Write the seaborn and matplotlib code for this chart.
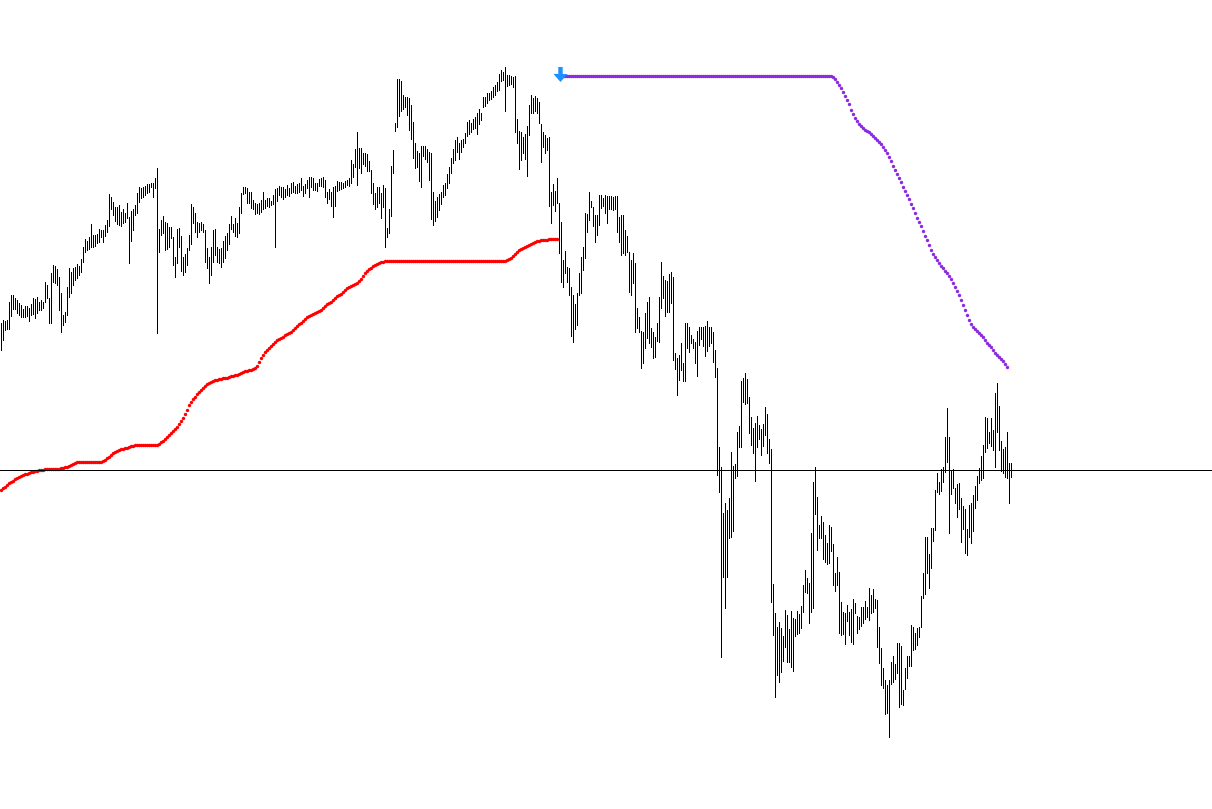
import numpy as np
import seaborn as sns
from matplotlib import pyplot as plt

# bar highs / lows (price points), one entry per bar
bar_high = [
    477, 480, 479, 480, 498, 505, 505, 502, 500, 497,
    495, 491, 494, 494, 492, 496, 502, 501, 503, 498,
    500, 498, 518, 515, 502, 527, 535, 534, 531, 523,
    507, 485, 488, 513, 532, 528, 532, 533, 536, 534,
    541, 553, 561, 559, 563, 576, 565, 565, 566, 571,
    570, 570, 575, 580, 606, 603, 598, 593, 593, 595,
    588, 591, 587, 597, 583, 589, 591, 595, 607, 613,
    612, 613, 614, 616, 616, 617, 617, 622, 632, 571,
    580, 584, 578, 577, 573, 573, 563, 543, 571, 572,
    564, 543, 546, 552, 565, 596, 593, 587, 578, 577,
    578, 576, 570, 552, 543, 553, 570, 571, 553, 551,
    552, 559, 564, 567, 576, 584, 576, 582, 577, 593,
    607, 613, 613, 612, 608, 608, 600, 597, 596, 597,
    600, 608, 600, 602, 602, 599, 605, 611, 612, 614,
    613, 613, 611, 615, 612, 617, 618, 614, 616, 617,
    622, 614, 616, 620, 623, 623, 622, 617, 617, 621,
    622, 623, 620, 608, 611, 608, 613, 614, 619, 618,
    618, 617, 619, 620, 622, 640, 636, 651, 668, 652,
    652, 647, 647, 646, 639, 630, 617, 607, 613, 613,
    607, 615, 612, 572, 591, 634, 650, 677, 721, 721,
    719, 705, 703, 703, 702, 695, 678, 657, 649, 647,
    654, 654, 654, 651, 648, 647, 608, 599, 603, 606,
    608, 615, 617, 626, 633, 642, 651, 660, 663, 657,
    660, 661, 667, 678, 680, 677, 681, 683, 687, 691,
    687, 703, 703, 707, 707, 709, 713, 715, 718, 726,
    730, 728, 733, 725, 725, 724, 723, 724, 681, 669,
    668, 663, 666, 674, 695, 705, 702, 704, 702, 698,
    676, 668, 665, 662, 663, 608, 616, 609, 622, 597,
    578, 540, 549, 533, 532, 513, 505, 496, 507, 527,
    543, 553, 587, 586, 608, 599, 593, 585, 585, 605,
    605, 602, 605, 604, 604, 604, 603, 604, 604, 583,
    585, 585, 570, 564, 548, 540, 547, 537, 492, 483,
    469, 468, 487, 498, 503, 472, 468, 463, 477, 503,
    538, 524, 520, 519, 526, 528, 523, 447, 442, 445,
    457, 437, 477, 477, 473, 465, 461, 458, 469, 473,
    473, 473, 474, 479, 473, 473, 468, 450, 432, 353,
    333, 287, 297, 290, 302, 348, 334, 336, 368, 374,
    419, 422, 427, 421, 403, 383, 372, 377, 384, 375,
    371, 376, 393, 386, 361, 351, 216, 187, 173, 178,
    172, 164, 190, 185, 171, 189, 182, 181, 189, 186,
    194, 215, 230, 222, 217, 267, 318, 333, 303, 275,
    284, 278, 265, 257, 275, 273, 256, 227, 243, 228,
    198, 188, 187, 195, 188, 191, 201, 197, 184, 183,
    193, 193, 199, 193, 212, 205, 211, 201, 200, 173,
    152, 132, 120, 115, 120, 138, 144, 136, 157, 157,
    154, 110, 132, 144, 144, 175, 173, 167, 172, 173,
    204, 227, 263, 263, 246, 272, 272, 310, 327, 318,
    331, 333, 363, 392, 363, 330, 331, 312, 316, 317,
    302, 294, 291, 271, 295, 297, 305, 314, 324, 332,
    344, 355, 383, 382, 368, 382, 370, 407, 417, 394,
    359, 351, 353, 368, 337, 337,
]

bar_low = [
    450, 460, 470, 471, 471, 484, 491, 491, 487, 485,
    483, 483, 483, 484, 479, 485, 486, 482, 487, 490,
    490, 492, 498, 502, 477, 477, 518, 517, 515, 490,
    468, 475, 478, 485, 503, 507, 515, 520, 522, 525,
    528, 538, 548, 550, 551, 553, 553, 554, 557, 558,
    563, 558, 564, 568, 574, 591, 585, 579, 576, 575,
    574, 577, 578, 582, 537, 559, 570, 585, 587, 598,
    602, 603, 605, 607, 608, 613, 603, 612, 467, 548,
    565, 567, 550, 551, 553, 562, 535, 523, 537, 553,
    529, 525, 528, 535, 550, 556, 577, 568, 563, 568,
    570, 568, 538, 532, 517, 525, 538, 545, 538, 537,
    533, 538, 542, 550, 556, 571, 568, 564, 563, 567,
    587, 606, 607, 597, 597, 592, 591, 586, 587, 586,
    588, 591, 592, 594, 593, 595, 596, 553, 599, 605,
    603, 601, 603, 605, 604, 607, 608, 607, 607, 608,
    610, 604, 607, 612, 603, 613, 610, 610, 609, 614,
    614, 613, 603, 597, 601, 594, 583, 594, 609, 610,
    611, 612, 613, 615, 614, 617, 623, 633, 615, 632,
    627, 636, 634, 629, 629, 607, 596, 591, 593, 597,
    582, 593, 553, 563, 567, 584, 627, 669, 673, 684,
    689, 691, 693, 685, 670, 661, 642, 632, 633, 619,
    613, 644, 641, 638, 620, 581, 575, 579, 583, 590,
    596, 603, 605, 612, 617, 627, 637, 640, 648, 641,
    648, 653, 657, 664, 666, 668, 671, 672, 666, 676,
    680, 693, 694, 697, 700, 701, 703, 705, 709, 710,
    719, 720, 689, 714, 715, 716, 713, 668, 657, 631,
    640, 647, 641, 624, 665, 687, 687, 689, 687, 677,
    638, 653, 647, 650, 594, 577, 595, 589, 597, 547,
    518, 513, 527, 518, 505, 464, 458, 471, 475, 505,
    507, 530, 542, 568, 580, 593, 574, 558, 565, 575,
    592, 594, 587, 577, 591, 591, 590, 591, 568, 558,
    545, 547, 545, 548, 508, 505, 517, 468, 472, 468,
    432, 437, 452, 462, 457, 453, 442, 443, 459, 458,
    492, 502, 484, 488, 488, 497, 440, 431, 405, 420,
    430, 419, 419, 452, 448, 457, 452, 437, 424, 455,
    461, 454, 444, 449, 454, 457, 438, 423, 325, 308,
    143, 223, 192, 223, 262, 263, 269, 322, 324, 353,
    353, 398, 396, 397, 367, 355, 347, 319, 353, 361,
    345, 354, 365, 347, 337, 198, 165, 103, 125, 118,
    128, 139, 153, 138, 138, 133, 129, 164, 166, 167,
    172, 188, 208, 207, 177, 188, 192, 286, 250, 262,
    262, 241, 238, 236, 237, 249, 215, 209, 215, 167,
    165, 166, 156, 179, 165, 158, 156, 187, 167, 171,
    174, 177, 181, 183, 180, 187, 188, 192, 153, 137,
    115, 112, 86, 87, 63, 116, 118, 121, 127, 93,
    96, 95, 111, 122, 134, 134, 150, 151, 155, 163,
    173, 202, 206, 227, 212, 232, 259, 270, 308, 306,
    309, 318, 328, 338, 267, 306, 312, 297, 283, 291,
    258, 271, 247, 245, 263, 257, 269, 292, 300, 317,
    320, 322, 348, 352, 357, 354, 350, 333, 368, 350,
    329, 327, 323, 322, 297, 323,
]

# red trailing stop, bars 0..278
stop_start = 0
stop_red = (
    [310, 312, 313, 315, 317, 318, 319, 321, 322, 323, 324, 325, 326, 326,
     327, 328, 328, 329, 329, 330, 330, 330, 331]
    + [331] * 7
    + [332, 332, 333, 333, 334, 335, 336, 337, 338]
    + [338] * 12
    + [339, 340, 342, 343, 345, 347, 348, 349, 350, 351, 351, 352, 352, 353,
       354, 354, 355]
    + [355] * 11
    + [356, 358, 359, 361, 363, 365, 367, 369, 371, 373, 376, 379, 382, 386,
       390, 395, 398, 401, 403, 406, 408, 410, 412, 414, 416, 417, 418, 419,
       420, 420, 421, 421, 422, 422, 422, 423, 424, 424, 425, 425, 426, 427,
       428, 429, 429, 430, 430, 431, 432, 434, 438, 442, 445, 448, 450, 452,
       454, 456, 458, 460, 461, 462, 463, 465, 466, 467, 468, 470, 472, 474,
       476, 477, 479, 481, 483, 484, 485, 486, 487, 488, 489, 490, 492, 494,
       496, 497, 498, 500, 502, 504, 505, 506, 508, 510, 512, 513, 514, 515,
       516, 517, 519, 521, 524, 527, 529, 531, 532, 534, 535, 536, 537, 538,
       538]
    + [539] * 61
    + [540, 541, 542, 544, 546, 548, 550, 551, 552, 553, 554, 555, 556, 557,
       558, 559, 559, 560, 560, 560, 560, 561, 561, 561, 561, 561]
)

# purple trailing stop after the sell signal, bars 280..503
signal_bar = 280
stop_purple = (
    [724] * 136
    + [723, 721, 718, 715, 712, 708, 704, 700, 696, 690,
       686, 682, 679, 676, 674, 672, 670, 669, 668, 666,
       664, 662, 660, 658, 656, 653, 650, 647, 643, 639,
       634, 630, 626, 622, 618, 613, 609, 605, 601, 596,
       592, 587, 582, 578, 574, 569, 564, 560, 555, 550,
       546, 543, 540, 537, 534, 532, 529, 527, 524, 521,
       517, 513, 509, 505, 500, 495, 490, 485, 480, 476,
       473, 471, 469, 467, 465, 463, 460, 457, 455, 453,
       450, 447, 445, 443, 441, 439, 436, 433]
)
signal_price = 718
level_line = 330

sns.set_style('white')
fig = plt.figure(figsize=(12.12, 8.09), dpi=100)
ax = fig.add_axes([0, 0, 1, 1])

n = len(bar_high)
x = np.arange(n)
ax.vlines(x, bar_low, bar_high, color='black', linewidth=0.5, antialiased=False)

ax.axhline(level_line, color='black', linewidth=0.5, antialiased=False)

sns.scatterplot(x=np.arange(stop_start, stop_start + len(stop_red)), y=stop_red,
                color='#ff0000', s=6, linewidth=0, ax=ax)
sns.scatterplot(x=np.arange(signal_bar, signal_bar + len(stop_purple)), y=stop_purple,
                color='#8a2be2', s=6, linewidth=0, ax=ax)

# sell arrow (down), tip just under the purple stop start
ax.arrow(signal_bar, signal_price + 15, 0, -15, width=2.2, head_width=7,
         head_length=8, length_includes_head=True, color='#1e90ff', linewidth=0)

ax.set_xlim(-0.25, 605.75)
ax.set_ylim(-9, 800)
ax.axis('off')

fig.savefig('out.png', dpi=100)
